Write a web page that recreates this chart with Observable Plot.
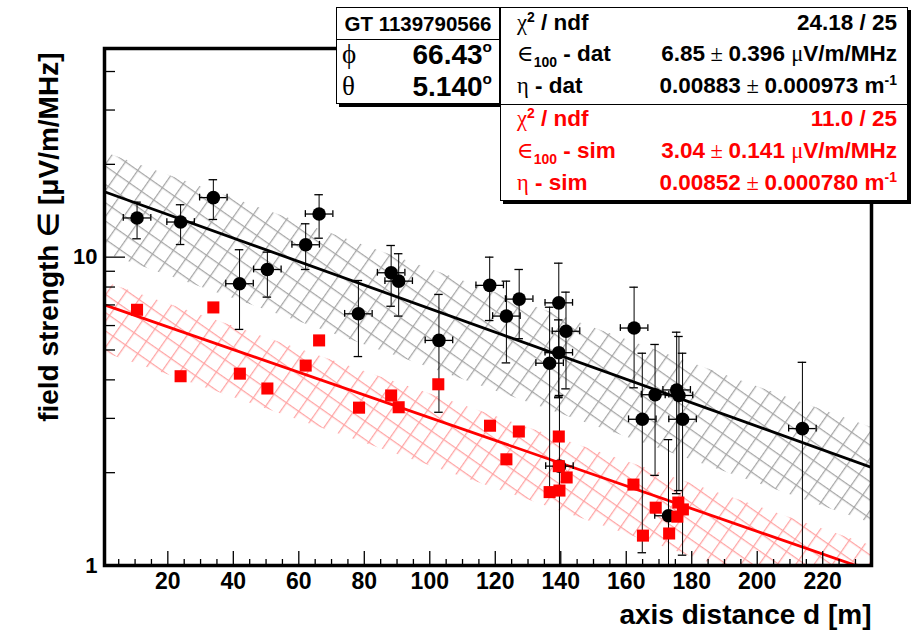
<!DOCTYPE html>
<html><head><meta charset="utf-8">
<script src="https://cdn.jsdelivr.net/npm/d3@7"></script>
<script src="https://cdn.jsdelivr.net/npm/@observablehq/plot@0.6"></script>
<style>
body{margin:0;background:#fff;}
#wrap{position:relative;width:919px;height:634px;font-family:"Liberation Sans",Arial,Helvetica,sans-serif;font-weight:bold;color:#000;}
.pane{position:absolute;background:#fff;border:1px solid #000;box-sizing:border-box;}
.row{position:absolute;white-space:nowrap;line-height:26px;height:26px;}
.g{font-family:"Liberation Serif","DejaVu Serif",serif;font-weight:normal;}
sup,sub{font-size:62%;line-height:0;}
.red{color:#f00;}
</style></head><body><div id="wrap"></div>
<script>
// ---- data ----
const datDist = [10.6, 23.9, 33.9, 41.9, 50.4, 62.1, 66.2, 78.2, 88.2, 90.5, 102.8, 118.3, 123.4, 127.3, 139.4, 141.6, 139.4, 136.6, 139.6, 162.4, 164.9, 168.8, 172.9, 175.4, 176.1, 177.2, 213.8];
const datVal  = [13.4, 13.0, 15.6, 8.2, 9.12, 10.97, 13.8, 6.55, 8.90, 8.36, 5.37, 8.10, 6.44, 7.31, 7.11, 5.75, 4.90, 4.53, 2.10, 5.89, 2.98, 3.58, 1.45, 3.71, 3.56, 2.98, 2.78];
const datHi   = [15.08, 14.79, 17.83, 10.57, 10.38, 12.83, 15.94, 8.40, 10.91, 10.26, 7.57, 10.0, 8.36, 9.12, 9.56, 7.70, 6.26, 6.88, 3.56, 7.99, 4.88, 5.21, 2.56, 5.71, 5.53, 4.88, 4.56];
const datLo   = [11.47, 10.99, 13.25, 5.83, 7.42, 9.12, 11.52, 4.76, 6.93, 6.44, 3.14, 6.23, 4.54, 5.44, 3.52, 3.74, 3.5, 1.75, 0.8, 3.77, 1.10, 1.96, 0.8, 1.71, 1.75, 1.08, 0.8];
const datDistErr = 4.2;

const simDist = [10.6, 23.9, 33.9, 42.0, 50.4, 62.1, 66.2, 78.4, 88.2, 90.5, 102.6, 118.4, 123.4, 127.2, 139.4, 139.4, 141.8, 136.6, 139.6, 162.2, 165.1, 169.0, 173.1, 175.9, 175.6, 177.3];
const simVal  = [6.75, 4.11, 6.87, 4.19, 3.75, 4.45, 5.37, 3.25, 3.56, 3.26, 3.87, 2.84, 2.21, 2.72, 2.62, 2.10, 1.93, 1.73, 1.75, 1.83, 1.25, 1.54, 1.27, 1.60, 1.44, 1.52];

// fit lines and hatched bands (end points)
const fitDist   = [0.66, 234.9];
const fitDat    = [16.3, 2.08];
const fitSim    = [7.0, 0.96];
const bandDatHi = [21.9, 2.80];
const bandDatLo = [10.3, 1.37];
const bandSimHi = [8.3, 1.16];
const bandSimLo = [4.9, 0.67];

const xTickLabels = [20, 40, 60, 80, 100, 120, 140, 160, 180, 200, 220];
const xMinorTicks = [5, 10, 15, 25, 30, 35, 45, 50, 55, 65, 70, 75, 85, 90, 95, 105, 110, 115, 125, 130, 135, 145, 150, 155, 165, 170, 175, 185, 190, 195, 205, 210, 215, 225, 230];
const yTickLabels = [1, 10];
const yMinorTicks = [2, 3, 4, 5, 6, 7, 8, 9, 20, 30, 40];

const xDomain = [0.66, 234.9];
const yDomain = [1, 47.5];

// ---- build tables ----
const dat = datDist.map((d, i) => ({d, v: datVal[i], hi: datHi[i], lo: datLo[i]}));
const sim = simDist.map((d, i) => ({d, v: simVal[i]}));
const fitD = fitDist.map((d, i) => ({d, v: fitDat[i], hi: bandDatHi[i], lo: bandDatLo[i]}));
const fitS = fitDist.map((d, i) => ({d, v: fitSim[i], hi: bandSimHi[i], lo: bandSimLo[i]}));

const W = 919, H = 634;
const mL = 104, mR = 48, mT = 48, mB = 69;
const frameW = W - mL - mR, frameH = H - mT - mB;
const font = "'Liberation Sans', Arial, Helvetica, sans-serif";

const plot = Plot.plot({
  width: W, height: H,
  marginLeft: mL, marginRight: mR, marginTop: mT, marginBottom: mB,
  x: {domain: xDomain, axis: null},
  y: {type: "log", domain: yDomain, axis: null},
  style: {fontFamily: font, background: "#fff", overflow: "visible"},
  marks: [
    Plot.areaY(fitD, {x: "d", y1: "lo", y2: "hi", fill: "url(#hatchGray)", clip: true}),
    Plot.areaY(fitS, {x: "d", y1: "lo", y2: "hi", fill: "url(#hatchRed)", clip: true}),
    Plot.line(fitD, {x: "d", y: "v", stroke: "#000", strokeWidth: 2.8, clip: true}),
    Plot.line(fitS, {x: "d", y: "v", stroke: "#f00", strokeWidth: 2.8, clip: true}),
    // error bars
    Plot.ruleX(dat, {x: "d", y1: "lo", y2: "hi", stroke: "#000", strokeWidth: 1, clip: true}),
    Plot.ruleY(dat, {y: "hi", x1: r => r.d - 1.3, x2: r => r.d + 1.3, stroke: "#000", strokeWidth: 1.3, clip: true}),
    Plot.ruleY(dat, {y: "lo", x1: r => r.d - 1.3, x2: r => r.d + 1.3, stroke: "#000", strokeWidth: 1.3, clip: true}),
    Plot.ruleY(dat, {y: "v", x1: r => r.d - datDistErr, x2: r => r.d + datDistErr, stroke: "#000", strokeWidth: 1.3, clip: true}),
    Plot.ruleX(dat, {x: r => r.d - datDistErr, y1: r => r.v * 0.975, y2: r => r.v / 0.975, stroke: "#000", strokeWidth: 1.3, clip: true}),
    Plot.ruleX(dat, {x: r => r.d + datDistErr, y1: r => r.v * 0.975, y2: r => r.v / 0.975, stroke: "#000", strokeWidth: 1.3, clip: true}),
    Plot.dot(dat, {x: "d", y: "v", r: 6.8, fill: "#000", stroke: null, clip: true}),
    Plot.dot(sim, {x: "d", y: "v", r: 6.8, symbol: "square", fill: "#f00", stroke: null, clip: true}),
    // inward ticks
    Plot.tickX(xTickLabels, {x: d => d, insetTop: frameH - 14, stroke: "#000", strokeWidth: 1.3}),
    Plot.tickX(xMinorTicks, {x: d => d, insetTop: frameH - 6, stroke: "#000", strokeWidth: 1.3}),
    Plot.tickY(yTickLabels, {y: d => d, insetRight: frameW - 21, stroke: "#000", strokeWidth: 1.3}),
    Plot.tickY(yMinorTicks, {y: d => d, insetRight: frameW - 11, stroke: "#000", strokeWidth: 1.3}),
    Plot.frame({stroke: "#000", strokeWidth: 3.5}),
    Plot.axisX(xTickLabels, {tickSize: 0, tickPadding: 7, fontSize: 23, fontWeight: "bold", tickFormat: d => `${d}`, fill: "#000", label: null}),
    Plot.axisY(yTickLabels, {tickSize: 0, tickPadding: 7, fontSize: 22, fontWeight: "bold", tickFormat: d => `${d}`, fill: "#000", label: null}),
    Plot.text(["axis distance d [m]"], {frameAnchor: "bottom-right", dy: 58, textAnchor: "end", fontSize: 28, fontWeight: "bold", fill: "#000"}),
    Plot.text(["field strength \u2208 [\u03bcV/m/MHz]"], {frameAnchor: "top-left", dx: -66, dy: 4, textAnchor: "end", rotate: -90, fontSize: 28, fontWeight: "bold", fill: "#000"})
  ]
});

// hatch patterns
const svgSel = d3.select(plot);
const defs = svgSel.insert("defs", ":first-child");
function hatch(id, color) {
  const s = 15;
  const p = defs.append("pattern").attr("id", id).attr("patternUnits", "userSpaceOnUse")
    .attr("width", s).attr("height", s).attr("patternTransform", "rotate(35)");
  p.append("path").attr("d", `M0,0.6H${s}M0.6,0V${s}`).attr("stroke", color).attr("stroke-width", 1.3).attr("fill", "none");
}
hatch("hatchGray", "#a6a6a6");
hatch("hatchRed", "#ffa4a4");

const wrap = document.getElementById("wrap");
wrap.appendChild(plot);

// ---- stat boxes ----
function pane(left, top, w, h, shadow) {
  const el = document.createElement("div");
  el.className = "pane";
  Object.assign(el.style, {left: left + "px", top: top + "px", width: w + "px", height: h + "px"});
  if (shadow) el.style.boxShadow = "3px 3px 0 #000";
  wrap.appendChild(el);
  return el;
}
function row(parent, html, opts) {
  const el = document.createElement("div");
  el.className = "row" + (opts.red ? " red" : "");
  el.innerHTML = html;
  el.style.top = (opts.cy - 13) + "px";
  el.style.fontSize = (opts.size || 22.5) + "px";
  if (opts.left != null) el.style.left = opts.left + "px";
  if (opts.right != null) el.style.right = opts.right + "px";
  if (opts.center) { el.style.left = "0"; el.style.right = "0"; el.style.textAlign = "center"; }
  parent.appendChild(el);
}

const gtLabel = "GT 1139790566";
const phiVal = "66.43", thetaVal = "5.140";
const chiDat = "24.18 / 25", epsDat = ["6.85", "0.396"], etaDat = ["0.00883", "0.000973"];
const chiSim = "11.0 / 25", epsSim = ["3.04", "0.141"], etaSim = ["0.00852", "0.000780"];

// GT box
const gt = pane(336, 7, 164, 97, true);
const gtHead = document.createElement("div");
Object.assign(gtHead.style, {position: "absolute", left: "0", top: "0", right: "0", height: "31px", borderBottom: "1px solid #000"});
gt.appendChild(gtHead);
row(gtHead, gtLabel, {cy: 16, center: true, size: 20.5});
row(gt, '<span class="g" style="font-size:27px">\u03d5</span>', {cy: 46, left: 5});
row(gt, phiVal + '<sup style="font-size:55%;vertical-align:0.8em">o</sup>', {cy: 47, right: 7, size: 28});
row(gt, '<span class="g" style="font-size:27px">\u03b8</span>', {cy: 78, left: 5});
row(gt, thetaVal + '<sup style="font-size:55%;vertical-align:0.8em">o</sup>', {cy: 79, right: 7, size: 28});

// fit result box
const fb = pane(500, 7, 408, 194, true);
const sep = document.createElement("div");
Object.assign(sep.style, {position: "absolute", left: "0", right: "0", top: "96px", borderTop: "1px solid #000"});
fb.appendChild(sep);
const pm = '<span class="g"> \u00b1 </span>';
const mu = '<span class="g">\u03bc</span>';
row(fb, '<span class="g">\u03c7</span><sup>2</sup> / ndf', {cy: 15, left: 16});
row(fb, chiDat, {cy: 15, right: 10});
row(fb, '<span class="g">\u2208</span><sub>100</sub> - dat', {cy: 46, left: 16});
row(fb, epsDat[0] + pm + epsDat[1] + ' ' + mu + 'V/m/MHz', {cy: 46, right: 10});
row(fb, '<span class="g">\u03b7</span> - dat', {cy: 78, left: 16});
row(fb, etaDat[0] + pm + etaDat[1] + ' m<sup>-1</sup>', {cy: 78, right: 10});
row(fb, '<span class="g">\u03c7</span><sup>2</sup> / ndf', {cy: 111, left: 16, red: true});
row(fb, chiSim, {cy: 111, right: 10, red: true});
row(fb, '<span class="g">\u2208</span><sub>100</sub> - sim', {cy: 143, left: 16, red: true});
row(fb, epsSim[0] + pm + epsSim[1] + ' ' + mu + 'V/m/MHz', {cy: 143, right: 10, red: true});
row(fb, '<span class="g">\u03b7</span> - sim', {cy: 175, left: 16, red: true});
row(fb, etaSim[0] + pm + etaSim[1] + ' m<sup>-1</sup>', {cy: 175, right: 10, red: true});
</script></body></html>
